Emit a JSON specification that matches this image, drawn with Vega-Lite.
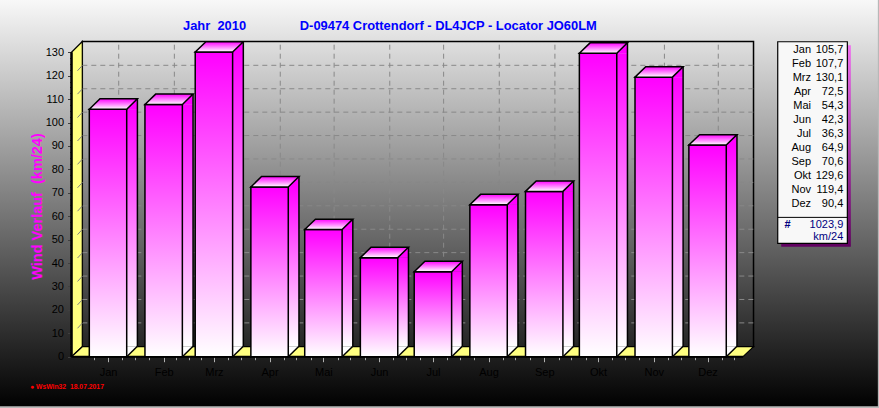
{"$schema":"https://vega.github.io/schema/vega-lite/v6.json","width":879,"height":408,"padding":0,"autosize":"none","title":{"text":"Jahr\u00a0\u00a02010\u00a0\u00a0\u00a0\u00a0\u00a0\u00a0\u00a0\u00a0\u00a0\u00a0\u00a0\u00a0\u00a0\u00a0\u00a0D-09474 Crottendorf - DL4JCP - Locator JO60LM","anchor":"start","frame":"group","dx":183,"offset":-34,"baseline":"top","font":"Liberation Sans","fontSize":12.9,"fontWeight":"bold","color":"#0000ff"},"config":{"font":"Liberation Sans","view":{"stroke":null,"fill":{"gradient":"linear","x1":0,"y1":0,"x2":0,"y2":1,"stops":[{"offset":0,"color":"#f8f8f8"},{"offset":1,"color":"#000000"}]}}},"data":{"values":[{"month":"Jan","date":"2010-01-01","value":105.7,"label":"105,7"},{"month":"Feb","date":"2010-02-01","value":107.7,"label":"107,7"},{"month":"Mrz","date":"2010-03-01","value":130.1,"label":"130,1"},{"month":"Apr","date":"2010-04-01","value":72.5,"label":"72,5"},{"month":"Mai","date":"2010-05-01","value":54.3,"label":"54,3"},{"month":"Jun","date":"2010-06-01","value":42.3,"label":"42,3"},{"month":"Jul","date":"2010-07-01","value":36.3,"label":"36,3"},{"month":"Aug","date":"2010-08-01","value":64.9,"label":"64,9"},{"month":"Sep","date":"2010-09-01","value":70.6,"label":"70,6"},{"month":"Okt","date":"2010-10-01","value":129.6,"label":"129,6"},{"month":"Nov","date":"2010-11-01","value":119.4,"label":"119,4"},{"month":"Dez","date":"2010-12-01","value":90.4,"label":"90,4"}]},"resolve":{"scale":{"y":"independent"}},"layer":[{"layer":[{"data":{"values":[{"x":"2009-12-17T16:20:00Z","x2":"2010-12-26T14:24:00Z","lo":4.27,"hi":134.6}]},"mark":{"type":"rect","fillOpacity":0,"stroke":"#000000","strokeWidth":1.5},"encoding":{"x":{"field":"x","type":"temporal","title":null,"scale":{"type":"utc","nice":false,"padding":0,"domain":[{"year":2009,"month":11,"date":1,"hours":20,"utc":true},{"year":2011,"month":3,"date":6,"hours":12,"utc":true}]},"axis":{"orient":"bottom","offset":-51.3,"domain":false,"grid":false,"title":null,"tickCount":200,"labelFont":"Liberation Sans","labelFontSize":11,"labelColor":"#000000","labelPadding":5,"labelOverlap":false,"labelBound":false,"labelFlush":false,"tickColor":"#b0b0b0","tickSize":{"condition":{"test":"utcdate(datum.value)==1","value":5},"value":3},"labelExpr":"utcdate(datum.value)==1?['Jan','Feb','Mrz','Apr','Mai','Jun','Jul','Aug','Sep','Okt','Nov','Dez'][utcmonth(datum.value)]:''","values":[{"year":2009,"month":12,"date":24,"utc":true},{"year":2010,"month":1,"date":1,"utc":true},{"year":2010,"month":1,"date":9,"utc":true},{"year":2010,"month":1,"date":16,"utc":true},{"year":2010,"month":1,"date":24,"utc":true},{"year":2010,"month":2,"date":1,"utc":true},{"year":2010,"month":2,"date":8,"utc":true},{"year":2010,"month":2,"date":15,"utc":true},{"year":2010,"month":2,"date":22,"utc":true},{"year":2010,"month":3,"date":1,"utc":true},{"year":2010,"month":3,"date":9,"utc":true},{"year":2010,"month":3,"date":16,"utc":true},{"year":2010,"month":3,"date":24,"utc":true},{"year":2010,"month":4,"date":1,"utc":true},{"year":2010,"month":4,"date":9,"utc":true},{"year":2010,"month":4,"date":16,"utc":true},{"year":2010,"month":4,"date":24,"utc":true},{"year":2010,"month":5,"date":1,"utc":true},{"year":2010,"month":5,"date":9,"utc":true},{"year":2010,"month":5,"date":16,"utc":true},{"year":2010,"month":5,"date":24,"utc":true},{"year":2010,"month":6,"date":1,"utc":true},{"year":2010,"month":6,"date":9,"utc":true},{"year":2010,"month":6,"date":16,"utc":true},{"year":2010,"month":6,"date":24,"utc":true},{"year":2010,"month":7,"date":1,"utc":true},{"year":2010,"month":7,"date":9,"utc":true},{"year":2010,"month":7,"date":16,"utc":true},{"year":2010,"month":7,"date":24,"utc":true},{"year":2010,"month":8,"date":1,"utc":true},{"year":2010,"month":8,"date":9,"utc":true},{"year":2010,"month":8,"date":16,"utc":true},{"year":2010,"month":8,"date":24,"utc":true},{"year":2010,"month":9,"date":1,"utc":true},{"year":2010,"month":9,"date":9,"utc":true},{"year":2010,"month":9,"date":16,"utc":true},{"year":2010,"month":9,"date":24,"utc":true},{"year":2010,"month":10,"date":1,"utc":true},{"year":2010,"month":10,"date":9,"utc":true},{"year":2010,"month":10,"date":16,"utc":true},{"year":2010,"month":10,"date":24,"utc":true},{"year":2010,"month":11,"date":1,"utc":true},{"year":2010,"month":11,"date":9,"utc":true},{"year":2010,"month":11,"date":16,"utc":true},{"year":2010,"month":11,"date":24,"utc":true},{"year":2010,"month":12,"date":1,"utc":true},{"year":2010,"month":12,"date":9,"utc":true},{"year":2010,"month":12,"date":16,"utc":true}]}},"x2":{"field":"x2"},"y":{"field":"lo","type":"quantitative","scale":{"domain":[-21.91,152.34],"nice":false,"zero":false},"axis":{"orient":"left","offset":-71.5,"domain":false,"grid":false,"title":"Wind Verlauf\u00a0\u00a0(km/24)","tickCount":200,"titleFont":"Liberation Sans","titleFontSize":14.5,"titleFontWeight":"bold","titleColor":"#ff00ff","titleX":-34.5,"titleY":206,"titleAngle":-90,"titleAlign":"center","titleBaseline":"middle","labelFont":"Liberation Sans","labelFontSize":11,"labelColor":"#000000","labelPadding":4,"labelOverlap":false,"labelBound":false,"labelFlush":false,"tickColor":"#404040","tickSize":{"condition":{"test":"datum.value%10==0","value":4},"value":2},"labelExpr":"datum.value%10==0?format(datum.value,'d'):''","values":[0,2.5,5,7.5,10,12.5,15,17.5,20,22.5,25,27.5,30,32.5,35,37.5,40,42.5,45,47.5,50,52.5,55,57.5,60,62.5,65,67.5,70,72.5,75,77.5,80,82.5,85,87.5,90,92.5,95,97.5,100,102.5,105,107.5,110,112.5,115,117.5,120,122.5,125,127.5,130]}},"y2":{"field":"hi"}}},{"data":{"values":[{"t":10,"x":"2009-12-17T16:20:00Z","x2":"2010-12-26T14:24:00Z"},{"t":20,"x":"2009-12-17T16:20:00Z","x2":"2010-12-26T14:24:00Z"},{"t":30,"x":"2009-12-17T16:20:00Z","x2":"2010-12-26T14:24:00Z"},{"t":40,"x":"2009-12-17T16:20:00Z","x2":"2010-12-26T14:24:00Z"},{"t":50,"x":"2009-12-17T16:20:00Z","x2":"2010-12-26T14:24:00Z"},{"t":60,"x":"2009-12-17T16:20:00Z","x2":"2010-12-26T14:24:00Z"},{"t":70,"x":"2009-12-17T16:20:00Z","x2":"2010-12-26T14:24:00Z"},{"t":80,"x":"2009-12-17T16:20:00Z","x2":"2010-12-26T14:24:00Z"},{"t":90,"x":"2009-12-17T16:20:00Z","x2":"2010-12-26T14:24:00Z"},{"t":100,"x":"2009-12-17T16:20:00Z","x2":"2010-12-26T14:24:00Z"},{"t":110,"x":"2009-12-17T16:20:00Z","x2":"2010-12-26T14:24:00Z"},{"t":120,"x":"2009-12-17T16:20:00Z","x2":"2010-12-26T14:24:00Z"}]},"mark":{"type":"rule","stroke":"#888888","strokeWidth":1,"strokeDash":[5,4],"yOffset":-10.4},"encoding":{"x":{"field":"x","type":"temporal"},"x2":{"field":"x2"},"y":{"field":"t","type":"quantitative"}}},{"mark":{"type":"rule","stroke":"#888888","strokeWidth":1,"strokeDash":[5,4],"xOffset":10.7},"encoding":{"x":{"field":"date","type":"temporal"},"y":{"datum":4.27},"y2":{"datum":134.6}}},{"data":{"values":[{"x":"2009-12-11T16:00:00Z","lo":0,"hi":130},{"x":"2009-12-17T16:20:00Z","lo":4.27,"hi":134.6}]},"mark":{"type":"area","fill":"#ffff80","stroke":"#000000","strokeWidth":1.2,"opacity":1},"encoding":{"x":{"field":"x","type":"temporal"},"y":{"field":"lo","type":"quantitative"},"y2":{"field":"hi"}}},{"data":{"values":[{"x":"2009-12-11T16:00:00Z","lo":0,"hi":0},{"x":"2009-12-17T16:20:00Z","lo":0,"hi":4.27},{"x":"2010-12-20T18:14:00Z","lo":0,"hi":4.27},{"x":"2010-12-26T14:24:00Z","lo":4.27,"hi":4.27}]},"mark":{"type":"area","fill":"#ffff80","stroke":"#000000","strokeWidth":1.2,"opacity":1},"encoding":{"x":{"field":"x","type":"temporal"},"y":{"field":"lo","type":"quantitative"},"y2":{"field":"hi"}}},{"data":{"values":[{"t":10,"x":"2009-12-11T16:00:00Z"},{"t":20,"x":"2009-12-11T16:00:00Z"},{"t":30,"x":"2009-12-11T16:00:00Z"},{"t":40,"x":"2009-12-11T16:00:00Z"},{"t":50,"x":"2009-12-11T16:00:00Z"},{"t":60,"x":"2009-12-11T16:00:00Z"},{"t":70,"x":"2009-12-11T16:00:00Z"},{"t":80,"x":"2009-12-11T16:00:00Z"},{"t":90,"x":"2009-12-11T16:00:00Z"},{"t":100,"x":"2009-12-11T16:00:00Z"},{"t":110,"x":"2009-12-11T16:00:00Z"},{"t":120,"x":"2009-12-11T16:00:00Z"}]},"mark":{"type":"point","shape":"M6,-5L11,-10.4","size":4,"filled":false,"stroke":"#808080","strokeWidth":1,"opacity":1},"encoding":{"x":{"field":"x","type":"temporal"},"y":{"field":"t","type":"quantitative"}}},{"data":{"values":[{"x":"2009-12-11T16:00:00Z","lo":0,"hi":130}]},"mark":{"type":"rule","stroke":"#000000","strokeWidth":2.5},"encoding":{"x":{"field":"x","type":"temporal"},"y":{"field":"lo","type":"quantitative"},"y2":{"field":"hi"}}},{"data":{"values":[{"x":"2009-12-11T16:00:00Z","x2":"2010-12-20T18:14:00Z","lo":0}]},"mark":{"type":"rule","stroke":"#000000","strokeWidth":2},"encoding":{"x":{"field":"x","type":"temporal"},"x2":{"field":"x2"},"y":{"field":"lo","type":"quantitative"}}},{"mark":{"type":"bar","orient":"vertical","width":10.7,"xOffset":24.05,"fill":{"gradient":"linear","x1":0,"y1":0,"x2":0,"y2":1,"stops":[{"offset":0,"color":"#ff00ff"},{"offset":1,"color":"#ffffff"}]}},"encoding":{"x":{"field":"date","type":"temporal"},"y":{"field":"value","type":"quantitative"},"y2":{"datum":4.44}}},{"mark":{"type":"point","shape":"M18.7,0L29.4,-10.4L29.4,0Z","size":4,"filled":true,"fill":"#ff00ff","opacity":1},"encoding":{"x":{"field":"date","type":"temporal"},"y":{"field":"value","type":"quantitative"}}},{"mark":{"type":"point","shape":"M18.7,0L29.4,-10.4L18.7,-10.4Z","size":4,"filled":true,"fill":"#ffffff","opacity":1},"encoding":{"x":{"field":"date","type":"temporal"},"y":{"datum":0}}},{"mark":{"type":"point","shape":"M18.7,0L29.4,-10.4","size":4,"filled":false,"stroke":"#000000","strokeWidth":1.5,"opacity":1},"encoding":{"x":{"field":"date","type":"temporal"},"y":{"datum":0}}},{"mark":{"type":"rule","stroke":"#000000","strokeWidth":1.5,"xOffset":29.4,"yOffset":-10.4},"encoding":{"x":{"field":"date","type":"temporal"},"y":{"field":"value","type":"quantitative"},"y2":{"datum":4.44}}},{"mark":{"type":"bar","orient":"vertical","width":37.4,"stroke":"#000000","strokeWidth":1.5,"fill":{"gradient":"linear","x1":0,"y1":0,"x2":0,"y2":1,"stops":[{"offset":0,"color":"#ff00ff"},{"offset":1,"color":"#ffffff"}]}},"encoding":{"x":{"field":"date","type":"temporal"},"y":{"field":"value","type":"quantitative"},"y2":{"datum":0}}},{"mark":{"type":"point","shape":"M-18.7,0L-8,-10.4L29.4,-10.4L18.7,0Z","size":4,"filled":true,"stroke":"#000000","strokeWidth":1.5,"opacity":1,"fill":{"gradient":"linear","x1":0,"y1":0,"x2":0,"y2":1,"stops":[{"offset":0,"color":"#ff00ff"},{"offset":1,"color":"#ffffff"}]}},"encoding":{"x":{"field":"date","type":"temporal"},"y":{"field":"value","type":"quantitative"}}},{"data":{"values":[{"x":"2011-01-09T02:00:00Z","x2":"2011-02-16T20:53:00Z","lo":48.4,"hi":134.5}]},"mark":{"type":"rect","xOffset":3.5,"x2Offset":3.5,"yOffset":3.5,"y2Offset":3.5,"fill":{"gradient":"linear","x1":0,"y1":0,"x2":0,"y2":1,"stops":[{"offset":0,"color":"#f070f0"},{"offset":1,"color":"#600060"}]}},"encoding":{"x":{"field":"x","type":"temporal"},"x2":{"field":"x2"},"y":{"field":"lo","type":"quantitative"},"y2":{"field":"hi"}}},{"data":{"values":[{"x":"2011-01-09T02:00:00Z","x2":"2011-02-16T20:53:00Z","lo":48.4,"hi":134.5}]},"mark":{"type":"rect","fill":"#f8f8f8","stroke":"#000000","strokeWidth":1.2},"encoding":{"x":{"field":"x","type":"temporal"},"x2":{"field":"x2"},"y":{"field":"lo","type":"quantitative"},"y2":{"field":"hi"}}},{"data":{"values":[{"x":"2011-01-09T02:00:00Z","x2":"2011-02-16T20:53:00Z","lo":59.5}]},"mark":{"type":"rule","stroke":"#000000","strokeWidth":1},"encoding":{"x":{"field":"x","type":"temporal"},"x2":{"field":"x2"},"y":{"field":"lo","type":"quantitative"}}},{"data":{"values":[{"text":"1023,9","x":"2011-02-14T14:24:00Z","v":56.2},{"text":"km/24","x":"2011-02-14T14:24:00Z","v":51}]},"mark":{"type":"text","align":"right","baseline":"middle","font":"Liberation Sans","fontSize":11,"color":"#000080"},"encoding":{"x":{"field":"x","type":"temporal"},"y":{"field":"v","type":"quantitative"},"text":{"field":"text"}}},{"data":{"values":[{"text":"#","x":"2011-01-14T14:00:00Z","v":56.2}]},"mark":{"type":"text","align":"center","baseline":"middle","font":"Liberation Sans","fontSize":11,"fontWeight":"bold","color":"#000080"},"encoding":{"x":{"field":"x","type":"temporal"},"y":{"field":"v","type":"quantitative"},"text":{"field":"text"}}},{"data":{"values":[{"text":"\u25cf WsWin32\u00a0\u00a018.07.2017","x":"2009-11-18T13:00:00Z","v":-12.9}]},"mark":{"type":"text","align":"left","baseline":"middle","font":"Liberation Sans","fontSize":6.8,"fontWeight":"bold","color":"#ff0000"},"encoding":{"x":{"field":"x","type":"temporal"},"y":{"field":"v","type":"quantitative"},"text":{"field":"text"}}},{"data":{"values":[{"x":"2011-03-06T10:00:00Z","lo":-21.91,"hi":152.34}]},"mark":{"type":"rule","stroke":"#b8b8b8","strokeWidth":2},"encoding":{"x":{"field":"x","type":"temporal"},"y":{"field":"lo","type":"quantitative"},"y2":{"field":"hi"}}},{"data":{"values":[{"x":"2009-11-01T20:00:00Z","x2":"2011-03-06T12:00:00Z","lo":-21.6}]},"mark":{"type":"rule","stroke":"#b8b8b8","strokeWidth":2},"encoding":{"x":{"field":"x","type":"temporal"},"x2":{"field":"x2"},"y":{"field":"lo","type":"quantitative"}}}]},{"layer":[{"mark":{"type":"text","align":"right","baseline":"middle","font":"Liberation Sans","fontSize":11,"color":"#000000"},"encoding":{"x":{"datum":{"year":2011,"month":1,"date":27,"hours":15,"minutes":22,"utc":true},"type":"temporal"},"y":{"field":"month","type":"ordinal","axis":null,"scale":{"type":"point","padding":0,"domain":["Jan","Feb","Mrz","Apr","Mai","Jun","Jul","Aug","Sep","Okt","Nov","Dez"],"range":[50,204]}},"text":{"field":"month"}}},{"mark":{"type":"text","align":"right","baseline":"middle","font":"Liberation Sans","fontSize":11,"color":"#000000"},"encoding":{"x":{"datum":{"year":2011,"month":2,"date":14,"hours":14,"minutes":24,"utc":true},"type":"temporal"},"y":{"field":"month","type":"ordinal","axis":null},"text":{"field":"label"}}}]}]}
